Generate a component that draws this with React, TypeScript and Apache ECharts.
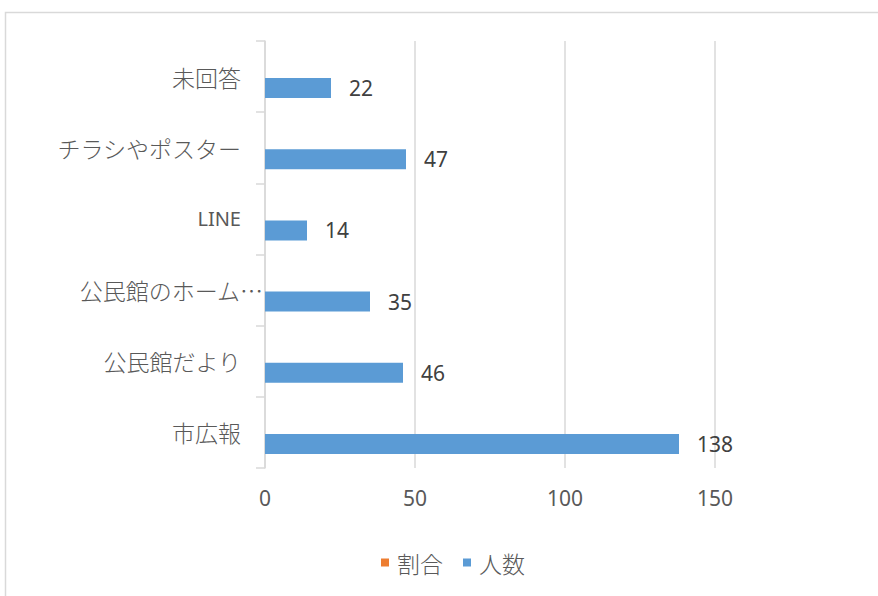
import React, { useEffect, useRef } from "react";
import * as echarts from "echarts";

const categories = ["市広報", "公民館だより", "公民館のホーム…", "LINE", "チラシやポスター", "未回答"];
const countValues = [138, 46, 35, 14, 47, 22];
const ratioValues: (number | null)[] = [null, null, null, null, null, null];
const seriesNames = ["割合", "人数"];
const xTicks = { min: 0, max: 150, interval: 50 };

export default function App() {
  const ref = useRef<HTMLDivElement>(null);
  useEffect(() => {
    if (!ref.current) return;
    const chart = echarts.init(ref.current, undefined, { renderer: "svg" });
    const jp = "'Noto Sans CJK JP', 'Noto Sans', sans-serif";
    const num = "'Noto Sans', 'Open Sans', sans-serif";
    chart.setOption({
      animation: false,
      backgroundColor: "#ffffff",
      graphic: [
        {
          type: "rect",
          shape: { x: 5.5, y: 12.5, width: 1000, height: 800 },
          style: { fill: "none", stroke: "#d9d9d9", lineWidth: 1.5 },
          silent: true,
        },
      ],
      grid: { left: 265, right: 163, top: 41, bottom: 128, containLabel: false },
      legend: {
        data: seriesNames,
        bottom: 17,
        left: 376,
        icon: "rect",
        itemWidth: 8,
        itemHeight: 8,
        itemGap: 20,
        textStyle: { fontFamily: jp, fontSize: 23, fontWeight: 300, color: "#595959", padding: [0, 0, 0, 3] },
      },
      xAxis: {
        type: "value",
        min: xTicks.min,
        max: xTicks.max,
        interval: xTicks.interval,
        axisLine: { show: false },
        axisTick: { show: false },
        splitLine: { show: true, lineStyle: { color: "#d9d9d9", width: 1.5 } },
        axisLabel: { fontFamily: num, fontSize: 21, color: "#595959", margin: 19 },
      },
      yAxis: {
        type: "category",
        data: categories,
        axisLine: { show: true, lineStyle: { color: "#d9d9d9", width: 1.5 } },
        axisTick: { show: true, length: 9, lineStyle: { color: "#d9d9d9", width: 1.5 } },
        axisLabel: {
          margin: 2,
          color: "#595959",
          fontFamily: jp,
          fontSize: 23,
          formatter: (v: string) =>
            v === "公民館のホーム…" ? `{b|${v}}` : v === "LINE" ? `{l|${v}}` : `{a|${v}}`,
          rich: {
            a: { fontFamily: jp, fontSize: 23, fontWeight: 300, color: "#595959", padding: [0, 22, 0, 0] },
            b: { fontFamily: jp, fontSize: 23, fontWeight: 300, color: "#595959" },
            l: { fontFamily: num, fontSize: 20, color: "#595959", padding: [0, 22, 0, 0] },
          },
        },
      },
      series: [
        {
          name: seriesNames[0],
          type: "bar",
          data: ratioValues,
          barWidth: 20,
          barGap: "15%",
          itemStyle: { color: "#ED7D31" },
        },
        {
          name: seriesNames[1],
          type: "bar",
          data: countValues,
          barWidth: 20,
          barGap: "15%",
          itemStyle: { color: "#5B9BD5" },
          label: {
            show: true,
            position: "right",
            distance: 18,
            fontFamily: num,
            fontSize: 21,
            color: "#404040",
          },
        },
      ],
    });
    return () => chart.dispose();
  }, []);
  return (
    <div
      ref={ref}
      style={{ position: "absolute", left: 0, top: 0, width: 878, height: 596 }}
    />
  );
}
